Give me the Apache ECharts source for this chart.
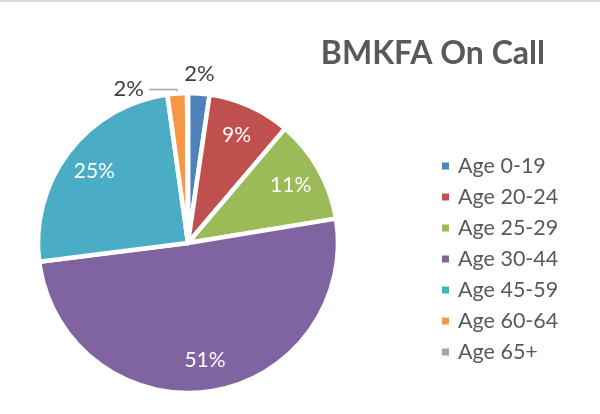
<!DOCTYPE html>
<html>
<head>
<meta charset="utf-8">
<script src="https://cdn.jsdelivr.net/npm/echarts@6/dist/echarts.min.js"></script>
<style>
html,body{margin:0;padding:0;background:#fff;}
#chart{width:600px;height:414px;box-sizing:border-box;border-top:2px solid #d9d9d9;}
</style>
</head>
<body>
<div id="chart"></div>
<script>
const titleText = 'BMKFA On Call';
const categories = ['Age 0-19','Age 20-24','Age 25-29','Age 30-44','Age 45-59','Age 60-64','Age 65+'];
const values = [2.3, 8.9, 11.2, 50.6, 24.8, 2.1, 0.1];
const colors = ['#4f81bd','#c0504d','#9bbb59','#8064a2','#4bacc6','#f79646','#a5a5a5'];

const FONT = 'Lato, "Open Sans", sans-serif';
const chart = echarts.init(document.getElementById('chart'));

// small slices: first one labelled straight above, the other with a leader line
const mainData = categories.map((name, i) => {
  const small = values[i] < 5 && values[i] >= 1;
  const leader = small && i > 0;
  return {
    name, value: values[i],
    itemStyle: { color: colors[i] },
    label: { show: small, distanceToLabelLine: leader ? 5 : 0 },
    labelLine: leader
      ? { show: true, length: 4, length2: 28 }
      : { show: false, length: 9, length2: 0 }
  };
});
const overlayData = categories.map((name, i) => ({
  name, value: values[i],
  label: { show: values[i] >= 5 }
}));

chart.setOption({
  animation: false,
  title: {
    text: titleText,
    right: 50, top: 31,
    textStyle: { fontFamily: FONT, fontWeight: 'bold', fontSize: 32, color: '#595959' }
  },
  legend: {
    orient: 'vertical',
    left: 435, top: 148,
    data: categories,
    icon: 'rect',
    itemWidth: 9, itemHeight: 9,
    itemGap: 9,
    textStyle: { fontFamily: FONT, fontSize: 21.5, color: '#595959', lineHeight: 22, padding: [0,0,0,3] }
  },
  series: [
    {
      type: 'pie',
      center: [188, 241],
      radius: [0, 150],
      startAngle: 90,
      clockwise: true,
      avoidLabelOverlap: false,
      data: mainData,
      itemStyle: { borderColor: '#ffffff', borderWidth: 4.5 },
      label: {
        position: 'outside',
        formatter: '{d}%',
        fontFamily: FONT, fontSize: 22, color: '#404040'
      },
      percentPrecision: 0,
      labelLine: { lineStyle: { color: '#a6a6a6', width: 1.5 } },
      labelLayout: function (p) {
        return p.dataIndex === 0 ? { align: 'center', verticalAlign: 'bottom' } : {};
      },
      emphasis: { disabled: true }
    },
    {
      type: 'pie',
      center: [188, 241],
      radius: [80, 150],
      startAngle: 90,
      clockwise: true,
      silent: true,
      data: overlayData,
      percentPrecision: 0,
      itemStyle: { color: 'rgba(0,0,0,0)', borderWidth: 0 },
      label: {
        position: 'inside',
        formatter: '{d}%',
        fontFamily: FONT, fontSize: 21, color: '#ffffff'
      },
      labelLine: { show: false },
      emphasis: { disabled: true }
    }
  ]
});
</script>
</body>
</html>
